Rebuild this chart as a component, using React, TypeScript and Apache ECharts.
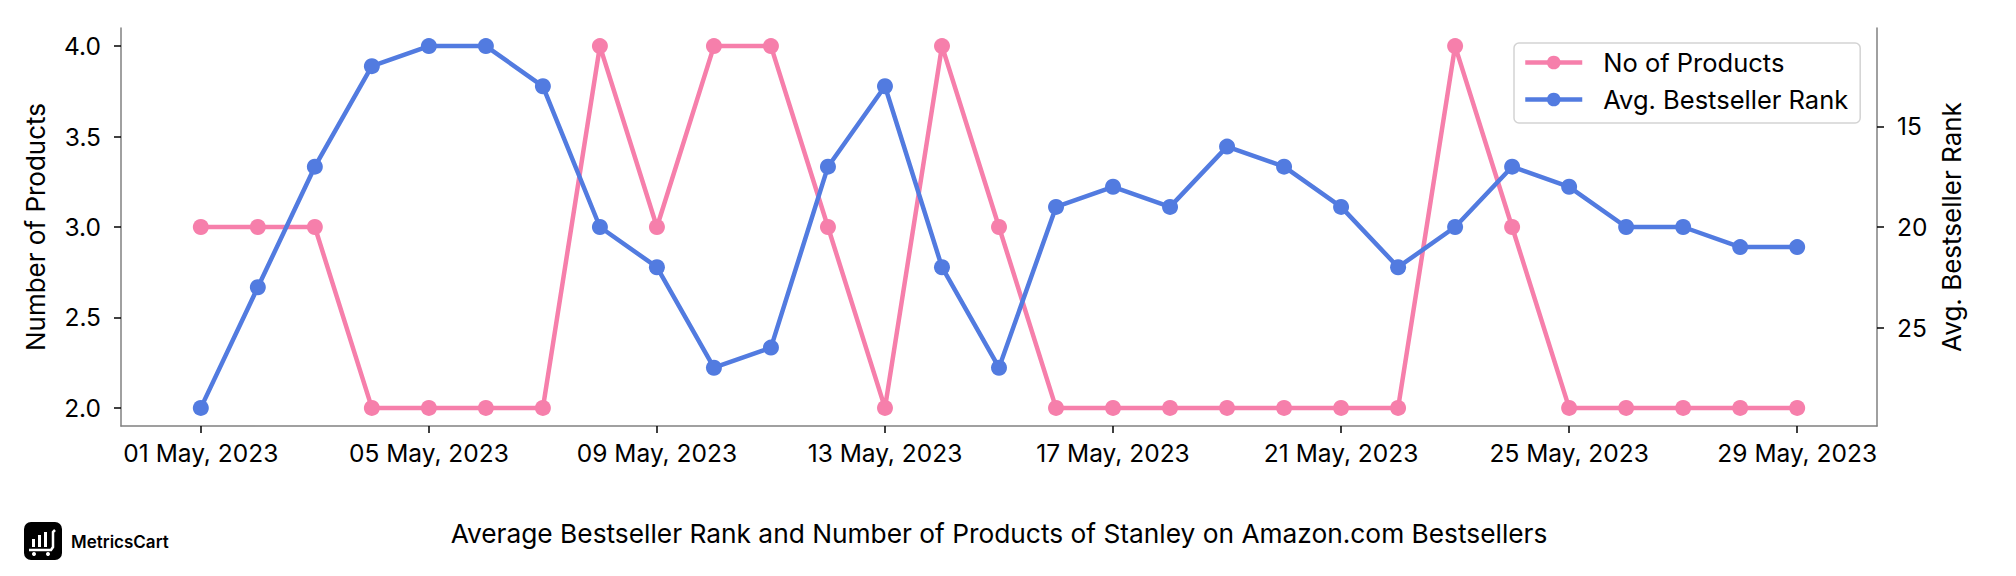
import React, { useEffect, useRef } from "react";
import * as echarts from "echarts";

const categories = [
  "01 May, 2023", "02 May, 2023", "03 May, 2023", "04 May, 2023", "05 May, 2023",
  "06 May, 2023", "07 May, 2023", "08 May, 2023", "09 May, 2023", "10 May, 2023",
  "11 May, 2023", "12 May, 2023", "13 May, 2023", "14 May, 2023", "15 May, 2023",
  "16 May, 2023", "17 May, 2023", "18 May, 2023", "19 May, 2023", "20 May, 2023",
  "21 May, 2023", "22 May, 2023", "23 May, 2023", "24 May, 2023", "25 May, 2023",
  "26 May, 2023", "27 May, 2023", "28 May, 2023", "29 May, 2023",
];
const noOfProducts = [3, 3, 3, 2, 2, 2, 2, 4, 3, 4, 4, 3, 2, 4, 3, 2, 2, 2, 2, 2, 2, 2, 4, 3, 2, 2, 2, 2, 2];
const avgRank = [29, 23, 17, 12, 11, 11, 13, 20, 22, 27, 26, 17, 13, 22, 27, 19, 18, 19, 16, 17, 19, 22, 20, 17, 18, 20, 20, 21, 21];
const xTickLabels = [
  "01 May, 2023", "05 May, 2023", "09 May, 2023", "13 May, 2023",
  "17 May, 2023", "21 May, 2023", "25 May, 2023", "29 May, 2023",
];
const leftTicks = [2.0, 2.5, 3.0, 3.5, 4.0];
const rightTicks = [15, 20, 25];

const FONT = "Inter, 'Noto Sans', sans-serif";
const PINK = "#F67FAB";
const BLUE = "#527BE0";

export default function App() {
  const ref = useRef<HTMLDivElement>(null);
  useEffect(() => {
    if (!ref.current) return;
    const chart = echarts.init(ref.current, undefined, { renderer: "svg" });
    const xTickIdx = xTickLabels.map((l) => categories.indexOf(l));
    const n = categories.length;
    const pad = (n - 1) * 0.05;
    const axisLineStyle = { color: "#808080", width: 1.5 };
    const tickStyle = { color: "#000", width: 1.5 };
    const labelStyle = { fontSize: 24.5, color: "#000", fontFamily: FONT };
    const nameStyle = { fontSize: 26, color: "#000", fontFamily: FONT };
    chart.setOption({
      animation: false,
      backgroundColor: "#fff",
      textStyle: { fontFamily: FONT },
      grid: { left: 121, right: 139, top: 28, bottom: 150, containLabel: false },
      legend: {
        orient: "vertical",
        left: 1514,
        top: 43,
        padding: [5, 12, 9, 9],
        itemWidth: 57,
        itemHeight: 17,
        itemGap: 8,
        borderColor: "#d3d3d3",
        borderWidth: 1.5,
        borderRadius: 5,
        backgroundColor: "rgba(255,255,255,0.8)",
        lineStyle: { width: 4.5 },
        textStyle: { fontSize: 25.5, color: "#000", fontFamily: FONT, padding: [0, 0, 0, 16], lineHeight: 29 },
        data: ["No of Products", "Avg. Bestseller Rank"],
      },
      xAxis: {
        type: "value",
        min: -pad,
        max: n - 1 + pad,
        axisLine: { show: true, onZero: false, lineStyle: axisLineStyle },
        axisTick: { show: true, customValues: xTickIdx, length: 7, lineStyle: tickStyle },
        axisLabel: {
          ...labelStyle,
          customValues: xTickIdx,
          margin: 14,
          formatter: (v: number) => categories[Math.round(v)],
        },
        splitLine: { show: false },
      },
      yAxis: [
        {
          type: "value",
          position: "left",
          min: 1.9,
          max: 4.1,
          name: "Number of Products",
          nameLocation: "middle",
          nameRotate: 90,
          nameGap: 73,
          nameTextStyle: { ...nameStyle },
          axisLine: { show: true, onZero: false, lineStyle: axisLineStyle },
          axisTick: { show: true, customValues: leftTicks, length: 7, lineStyle: tickStyle },
          axisLabel: {
            ...labelStyle,
            customValues: leftTicks,
            margin: 20,
            formatter: (v: number) => v.toFixed(1),
          },
          splitLine: { show: false },
        },
        {
          type: "value",
          position: "right",
          inverse: true,
          min: 10.1,
          max: 29.9,
          name: "Avg. Bestseller Rank",
          nameLocation: "middle",
          nameRotate: 90,
          nameGap: 60,
          nameTextStyle: { ...nameStyle },
          axisLine: { show: true, onZero: false, lineStyle: axisLineStyle },
          axisTick: { show: true, customValues: rightTicks, length: 7, lineStyle: tickStyle },
          axisLabel: { ...labelStyle, customValues: rightTicks, margin: 20 },
          splitLine: { show: false },
        },
      ],
      series: [
        {
          name: "No of Products",
          type: "line",
          yAxisIndex: 0,
          data: noOfProducts.map((v, i) => [i, v]),
          symbol: "circle",
          symbolSize: 16,
          color: PINK,
          lineStyle: { width: 4.5, color: PINK },
          itemStyle: { color: PINK },
          z: 2,
        },
        {
          name: "Avg. Bestseller Rank",
          type: "line",
          yAxisIndex: 1,
          data: avgRank.map((v, i) => [i, v]),
          symbol: "circle",
          symbolSize: 16,
          color: BLUE,
          lineStyle: { width: 4.5, color: BLUE },
          itemStyle: { color: BLUE },
          z: 3,
        },
      ],
      graphic: [
        {
          type: "text",
          x: 999,
          y: 533,
          style: {
            text: "Average Bestseller Rank and Number of Products of Stanley on Amazon.com Bestsellers",
            textAlign: "center",
            textVerticalAlign: "middle",
            fontSize: 26.3,
            fontFamily: FONT,
            fill: "#000",
          },
        },
        {
          type: "group",
          x: 24,
          y: 522,
          children: [
            { type: "rect", shape: { x: 0, y: 0, width: 38, height: 38, r: 7 }, style: { fill: "#000" } },
            { type: "rect", shape: { x: 8, y: 17, width: 3, height: 8 }, style: { fill: "#fff" } },
            { type: "rect", shape: { x: 14, y: 13, width: 3, height: 12 }, style: { fill: "#fff" } },
            { type: "rect", shape: { x: 20, y: 10, width: 3, height: 15 }, style: { fill: "#fff" } },
            {
              type: "polyline",
              shape: { points: [[5, 28], [27, 28], [29, 25], [29, 10], [31, 8]] },
              style: { stroke: "#fff", lineWidth: 2.5, fill: "none" },
            },
            { type: "circle", shape: { cx: 10, cy: 32, r: 2 }, style: { fill: "#fff" } },
            { type: "circle", shape: { cx: 24, cy: 32, r: 2 }, style: { fill: "#fff" } },
          ],
        },
        {
          type: "text",
          x: 71,
          y: 542,
          style: {
            text: "MetricsCart",
            textAlign: "left",
            textVerticalAlign: "middle",
            fontSize: 17,
            fontWeight: 600,
            fontFamily: FONT,
            fill: "#000",
          },
        },
      ],
    });
    return () => chart.dispose();
  }, []);
  return (
    <div
      ref={ref}
      style={{ position: "absolute", left: 0, top: 0, width: 2016, height: 576 }}
    />
  );
}
